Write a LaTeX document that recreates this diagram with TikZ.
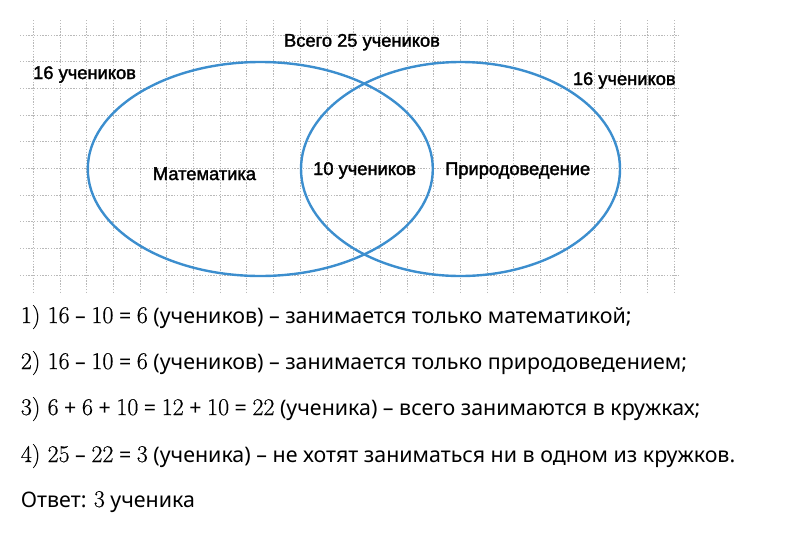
\documentclass[tikz,border=0pt]{standalone}
\usepackage{fontspec}
\setmainfont{Noto Sans}
\newfontfamily\labelfont[FakeBold=1.8]{Liberation Sans}
\newfontfamily\numfont[Scale=1.12,FakeBold=0.5]{Latin Modern Roman}
\newcommand{\nm}[1]{{\numfont #1}}
\definecolor{vennblue}{RGB}{60,142,206}
\definecolor{gridgray}{RGB}{185,185,185}

\begin{document}
\begin{tikzpicture}[x=1pt,y=-1pt,
  label/.style={font=\labelfont\fontsize{18.3}{21}\selectfont,inner sep=0pt},
  solve/.style={anchor=base west,inner sep=0pt,font=\fontsize{21.4}{25}\selectfont}]
  \useasboundingbox (0,0) rectangle (800,539);
  \pgfmathsetmacro\cell{26.7}
  % squared paper
  \foreach \k in {0,...,9}
    \draw[gridgray,line width=0.9pt,dash pattern=on 1.4pt off 1.4pt] (20,35+\k*\cell) -- (679,35+\k*\cell);
  \foreach \k in {0,...,24}
    \draw[gridgray,line width=0.9pt,dash pattern=on 1.4pt off 1.4pt] (33.3+\k*\cell,20) -- (33.3+\k*\cell,293);
  % the two sets
  \draw[vennblue,line width=2.4pt] (260.3,169) ellipse[x radius=172.5,y radius=107];
  \draw[vennblue,line width=2.4pt] (460.5,169) ellipse[x radius=159.5,y radius=107];
  \node[label,anchor=base] (total) at (362,46.7) {Всего 25 учеников};
  \node[label,anchor=base west] (mathcount) at (33,79) {16 учеников};
  \node[label,anchor=base west] (naturecount) at (572.7,85) {16 учеников};
  \node[label,anchor=base west] (math) at (152.7,180) {Математика};
  \node[label,anchor=base west] (both) at (313,175) {10 учеников};
  \node[label,anchor=base west] (nature) at (445,175) {Природоведение};
  % solution
  \node[solve] (step1) at (20.7,323) {\nm{1) 16} – \nm{10} = \nm{6} (учеников) – занимается только математикой;};
  \node[solve] (step2) at (20.7,369) {\nm{2) 16} – \nm{10} = \nm{6} (учеников) – занимается только природоведением;};
  \node[solve] (step3) at (20.7,415) {\nm{3) 6} + \nm{6} + \nm{10} = \nm{12} + \nm{10} = \nm{22} (ученика) – всего занимаются в кружках;};
  \node[solve] (step4) at (20.7,462) {\nm{4) 25} – \nm{22} = \nm{3} (ученика) – не хотят заниматься ни в одном из кружков.};
  \node[solve] (answer) at (20.7,507) {Ответ: \nm{3} ученика};
\end{tikzpicture}
\end{document}
